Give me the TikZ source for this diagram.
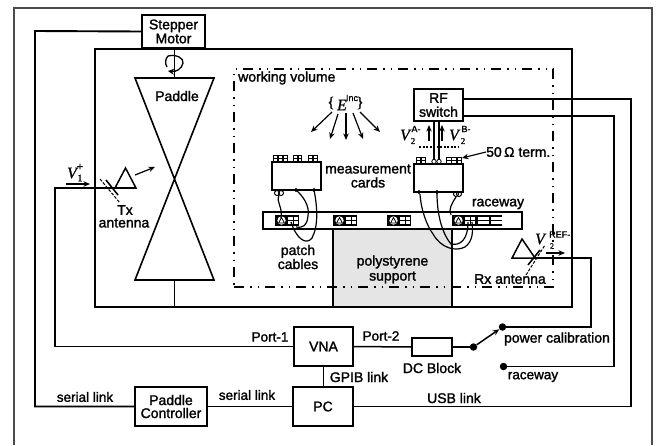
\documentclass[tikz,border=0pt]{standalone}
\usepackage{fontspec}
\setmainfont[FakeBold=1.6]{Liberation Sans}
\newfontfamily\vfont[FakeBold=1,ItalicFeatures={FakeBold=1}]{Liberation Serif}
\usetikzlibrary{arrows.meta}
\tikzset{
 x=1pt,y=-1pt,
 txt/.style={inner sep=0pt,align=center,font=\fontsize{14}{14}\selectfont},
 lab/.style={inner sep=0pt,align=center,font=\fontsize{13.5}{13.5}\selectfont},
 box/.style={draw,line width=1.7pt,fill=white,inner sep=0pt,align=center,font=\fontsize{14}{15}\selectfont},
 wire/.style={line width=1.9pt,line join=miter},
 cable/.style={line width=1.2pt},
 arr/.style={line width=1.2pt,-{Stealth[length=6.5pt,width=5.5pt]}},
 vv/.style={inner sep=0pt,font=\vfont\itshape\fontsize{16}{16}\selectfont},
 sup/.style={inner sep=0pt,font=\fontsize{8.5}{9}\selectfont},
 dot/.style={circle,fill=black,inner sep=0pt,minimum size=7.5pt},
 conn/.style={line width=.8pt},
}
\begin{document}
\begin{tikzpicture}
\useasboundingbox (0,0) rectangle (670,445);
% outer frame
\draw[line width=1.3pt,black!70] (14,445) -- (14,8) -- (652,8) -- (652,445);
% polystyrene support and chamber
\node[fill=black!10,inner sep=0pt,minimum width=119pt,minimum height=78pt,align=center,font=\fontsize{14}{15}\selectfont,text depth=0pt] (support) at (392.5,268) {polystyrene\\support};
\node[draw,line width=2.4pt,minimum width=477pt,minimum height=258pt,inner sep=0pt] (chamber) at (333.5,178) {};
\draw[line width=1.6pt] (support.north west) -- (support.south west);
\draw[line width=1.6pt] (support.north east) -- (support.south east);
% working volume
\node[draw,line width=1.1pt,dash pattern=on 10pt off 6pt on 1.5pt off 6pt on 1.5pt off 6pt,minimum width=319pt,minimum height=218pt,inner sep=0pt] (volume) at (393.5,178) {};
\node[txt,anchor=west] (wv) at (238,78) {working volume};
% boxes
\node[box,minimum width=63pt,minimum height=33pt] (motor) at (173.5,31.5) {Stepper\\[-1pt]Motor};
\node[box,minimum width=59pt,minimum height=39pt] (vna) at (323.5,346.5) {VNA};
\node[box,minimum width=60pt,minimum height=39pt] (pc) at (323,406.5) {PC};
\node[box,minimum width=72pt,minimum height=39pt,font=\fontsize{14}{13}\selectfont] (ctrl) at (171,406.5) {Paddle\\Controller};
\node[box,minimum width=40pt,minimum height=18pt,line width=1.4pt] (dc) at (432,347) {};
\node[box,minimum width=49pt,minimum height=32pt] (rf) at (438.5,105) {RF\\[-1pt]switch};
\node[box,minimum width=49pt,minimum height=28pt,line width=1.4pt] (card1) at (296.5,176) {};
\node[box,minimum width=49pt,minimum height=28pt,line width=1.4pt] (card2) at (438.5,178) {};
\node[draw,fill=white,line width=1.1pt,minimum width=259pt,minimum height=17pt,inner sep=0pt] (race) at (392.5,220.5) {};
% paddle
\coordinate (ptop) at (174.5,78);
\coordinate (pbot) at (174.5,280);
\draw[line width=1.6pt,line join=miter] (135,78) -- (214,78) -- (135,280) -- (214,280) -- cycle;
\draw[line width=1.5pt] (chamber.north -| ptop) -- (ptop);
\draw[line width=1.5pt] (pbot) -- (chamber.south -| pbot);
\node[txt] (paddle) at (177,96) {Paddle};
% rotation symbol
\draw[line width=1.3pt,-{Stealth[length=6pt,width=6pt]}] (168,56) .. controls (176,54) and (184,58) .. (183,63) .. controls (182,69) and (176,72) .. (168,71);
\draw[line width=1.3pt] (168,56) .. controls (165,59) and (165,64) .. (167,67);
% Tx antenna
\coordinate (txa) at (115,188);
\coordinate (txb) at (136,188);
\coordinate (txt) at (125.5,168);
\coordinate (txw) at (55,188);
\draw[line width=1.5pt,line join=miter] (txa) -- (txb) -- (txt) -- cycle;
\draw[wire] (txb) -- (txw) |- (vna.west);
\draw[line width=1.5pt] (106,180) -- (118,195);
\draw[line width=1pt,dash pattern=on 3pt off 1.5pt] (100,179) -- (120,203);
\draw[arr] (135,175) -- (155,167);
\draw[arr] (66,184) -- (90,184);
\node[vv] (v1) at (72,173) {V};
\node[sup,font=\fontsize{11}{11}\selectfont] (v1p) at (80,167) {+};
\node[inner sep=0pt,font=\vfont\fontsize{10}{10}\selectfont] (v1s) at (80,178) {1};
\node[txt] (tx) at (125,210) {Tx};
\node[txt] (ant) at (124,223) {antenna};
% Rx antenna
\coordinate (rxa) at (512,258);
\coordinate (rxb) at (535,258);
\coordinate (rxt) at (522,239);
\coordinate (rxe) at (591,258);
\draw[line width=1.5pt,line join=miter] (rxa) -- (rxb) -- (rxt) -- cycle;
\draw[line width=1.5pt] (528,265) -- (540,250);
\draw[line width=1pt,dash pattern=on 3pt off 1.5pt] (526,275) -- (545,245);
\draw[arr] (546,253) -- (565,253);
\node[vv] (v2r) at (540,239) {V};
\node[inner sep=0pt,font=\fontsize{9}{9}\selectfont,anchor=west] (refl) at (549,234.5) {REF-};
\node[inner sep=0pt,font=\vfont\fontsize{8}{8}\selectfont] (v2rs) at (552,246) {2};
\node[txt] (rx) at (510,279) {Rx antenna};
% switch
\node[dot] (sw0) at (473.5,347) {};
\node[dot] (sw1) at (502.5,327) {};
\node[dot] (sw2) at (503.5,366.5) {};
\draw[line width=1.5pt,-{Stealth[length=6.5pt,width=5.5pt]}] (sw0) -- (sw1);
% connectors
\draw[wire] (rxb) -- (rxe) |- (sw1);
\draw[line width=1.5pt] (vna.east) -- (dc.west);
\draw[line width=1.5pt] (dc.east) -- (sw0);
\draw[wire] (vna.south) -- (vna.south |- pc.north);
\draw[wire] (pc.west) -- (ctrl.east);
\coordinate (lft) at (35,31);
\draw[wire] (motor.west) -- (lft) |- (ctrl.west);
\coordinate (rf1) at (463,99);
\coordinate (rf2) at (463,116);
\coordinate (c1) at (631,99);
\coordinate (c2) at (614,116);
\draw[wire] (rf1) -- (c1) |- (pc.east);
\draw[wire] (rf2) -- (c2) |- (sw2);
% RF to card
\draw[line width=1.1pt] (434,121) -- (434,164);
\draw[line width=1.1pt] (439,121) -- (439,164);
\draw[arr] (429,141) -- (429,125);
\draw[arr] (442,141) -- (442,125);
\draw[line width=1.2pt,dash pattern=on 2pt off 1.5pt] (419,147) -- (458,147);
\node[vv] (v2a) at (405,135) {V};
\node[inner sep=0pt,font=\fontsize{9}{9}\selectfont] (v2as) at (416,129) {A-};
\node[inner sep=0pt,font=\vfont\fontsize{9}{9}\selectfont] (v2an) at (413,141) {2};
\node[vv] (v2b) at (454,135) {V};
\node[inner sep=0pt,font=\fontsize{9}{9}\selectfont] (v2bs) at (466,129) {B-};
\node[inner sep=0pt,font=\vfont\fontsize{9}{9}\selectfont] (v2bn) at (463,141) {2};
% labels
\node[txt,anchor=west] (ohm) at (486,152) {50\,Ω term.};
\draw[arr] (ohm.west) -- (462,158);
\node[lab] (port1) at (270,337) {Port-1};
\node[lab] (port2) at (381,336) {Port-2};
\node[txt] (dcl) at (432,368) {DC Block};
\node[txt] (pcal) at (557,339) {power calibration};
\node[lab] (rwl) at (533,377) {raceway};
\node[txt] (gpib) at (359,377) {GPIB link};
\node[txt] (usb) at (454,398) {USB link};
\node[lab] (ser1) at (85,397) {serial link};
\node[lab] (ser2) at (247,395) {serial link};
\node[txt] (meas) at (368,176) {measurement\\[0pt]cards};
\node[txt] (rway) at (498,204) {raceway};
\node[txt] (patch) at (298,257) {patch\\[0pt]cables};
% field
\node[inner sep=0pt,font=\vfont\fontsize{15}{15}\selectfont] (eb1) at (331,103) {\{};
\node[vv] (e) at (342,105) {E};
\node[inner sep=0pt,font=\fontsize{9}{9}\selectfont] (inc) at (352,98) {Inc};
\node[inner sep=0pt,font=\vfont\fontsize{15}{15}\selectfont] (eb2) at (360,103) {\}};
\draw[arr] (332,112) -- (311,132);
\draw[arr] (338,114) -- (330,139);
\draw[arr] (346,113) -- (346,140);
\draw[arr] (353,113) -- (363,139);
\draw[arr] (360,112) -- (380,132);
% card connectors: dark blocks with white cells
\foreach \a/\b/\y/\n in {273/288/155/3,293/302/155/2,308/318/155/2,416/426/157/2,446/462/157/3}{
 \fill (\a,\y) rectangle (\b,\y+7);
 \pgfmathsetmacro{\cw}{(\b-\a)/\n}
 \foreach \i in {1,...,\n}{
  \fill[white] (\a+\cw*\i-\cw+1,\y+1) rectangle (\a+\cw*\i-.7,\y+3);
  \fill[white] (\a+\cw*\i-\cw+1,\y+4) rectangle (\a+\cw*\i-.7,\y+6);
 }
}
\foreach \x in {434,439}{\draw[conn,fill=white] (\x,161.5) circle (2.2);}
\foreach \x/\y in {277/193,281/193}{\draw[conn,line width=1pt] (\x,\y) circle (2.5);}
\draw[conn,fill=black] (296,190) circle (1.5);
\draw[conn,fill=black] (314,190) circle (1.5);
\draw[conn,fill=black] (419,192) circle (1.5);
\draw[conn,fill=black] (437,192) circle (1.5);
\draw[conn,line width=1pt] (456,194) circle (2.5);
\draw[conn,line width=1pt] (459,194) circle (2.5);
% raceway blocks
\foreach \x/\w in {275/24,333/24,387/24,452/50}{
 \fill (\x,215) rectangle +(\w,11);
 \fill[white] (\x+6.5,220.5) circle (4.2);
 \draw[conn] (\x+3.6,223) -- (\x+6.5,217.5) -- (\x+9.4,223) -- cycle;
 \fill[white] (\x+13,217) rectangle (\x+17.5,220);
 \fill[white] (\x+18.5,217) rectangle (\x+22.5,220);
 \fill[white] (\x+13,221) rectangle (\x+17.5,224);
 \fill[white] (\x+18.5,221) rectangle (\x+22.5,224);
}
\foreach \x in {478,491}{
 \fill[white] (\x,217) rectangle (\x+10.5,220);
 \fill[white] (\x,221) rectangle (\x+10.5,224);
}
% cables
\draw[cable] (279,195) .. controls (276,203) and (283,207) .. (281,218);
\draw[cable] (296,190) .. controls (303,196) and (310,206) .. (308,216) .. controls (307,226) and (303,228) .. (296,227);
\draw[cable] (314,190) .. controls (317,205) and (319,225) .. (312,238) .. controls (306,246) and (296,238) .. (291,222);
\draw[cable] (420,194) .. controls (421,210) and (427,226) .. (433,234) .. controls (441,248) and (455,252) .. (465,247) .. controls (473,241) and (473,232) .. (472,222);
\draw[cable] (437,193) .. controls (437,212) and (441,232) .. (451,244) .. controls (460,246) and (468,240) .. (468,222);
\draw[cable] (456,197) .. controls (452,203) and (448,210) .. (451,215);
\end{tikzpicture}
\end{document}
